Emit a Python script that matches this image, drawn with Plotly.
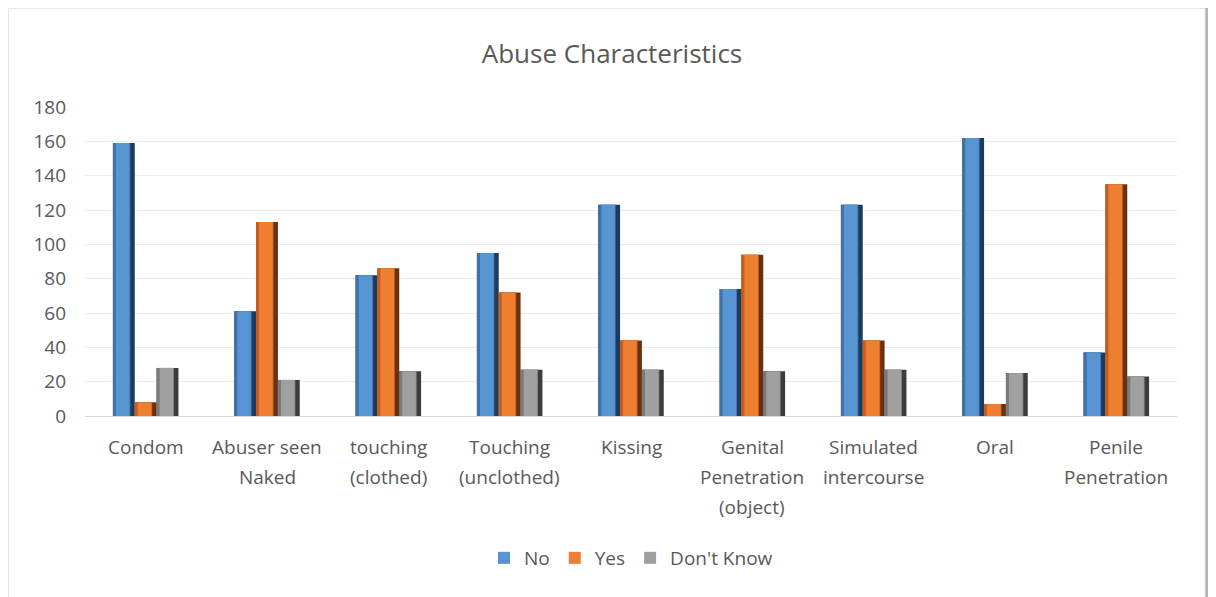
import plotly.graph_objects as go

categories = ["Condom", "Abuser seen<br>Naked", "touching<br>(clothed)", "Touching<br>(unclothed)",
              "Kissing", "Genital<br>Penetration<br>(object)", "Simulated<br>intercourse", "Oral",
              "Penile<br>Penetration"]
no_vals = [159, 61, 82, 95, 123, 74, 123, 162, 37]
yes_vals = [8, 113, 86, 72, 44, 94, 44, 7, 135]
dk_vals = [28, 21, 26, 27, 27, 26, 27, 25, 23]
y_ticks = [0, 20, 40, 60, 80, 100, 120, 140, 160, 180]

FONT = "Open Sans"
TXT = "#595959"

cat_ids = list(range(len(categories)))

# figure is placed 8px into the page by the browser's body margin
W, H = 1208, 589
L, R, T, B = 77, 39, 99, 181
PW, PH = W - L - R, H - T - B

fig = go.Figure()
series = [("No", no_vals, "#5694D2", "#3F72A8", "#1F3B5C", -0.27),
          ("Yes", yes_vals, "#EE7F30", "#C65F1E", "#6A3110", -0.09),
          ("Don't Know", dk_vals, "#A0A0A0", "#7A7A7A", "#3C3C3C", 0.09)]
BW = 0.18
for name, vals, col, left, edge, off in series:
    fig.add_trace(go.Bar(x=cat_ids, y=vals, name=name, showlegend=False, width=BW, offset=off,
                         marker=dict(color=edge, line=dict(width=0)), hoverinfo="skip"))
    fig.add_trace(go.Bar(x=cat_ids, y=vals, name=name, showlegend=False, width=BW * 0.8, offset=off,
                         marker=dict(color=left, line=dict(width=0)), hoverinfo="skip"))
    fig.add_trace(go.Bar(x=cat_ids, y=vals, name=name, width=BW * 0.62, offset=off + BW * 0.14,
                         marker=dict(color=col, line=dict(width=0))))

annotations = []
for i, lab in enumerate(categories):
    for j, line in enumerate(lab.split("<br>")):
        annotations.append(dict(x=i, y=0, xref="x", yref="paper", text=line, showarrow=False,
                                yanchor="middle", xanchor="center", yshift=-31 - 30 * j,
                                font=dict(family=FONT, size=19, color=TXT)))

fig.update_layout(
    width=W, height=H,
    paper_bgcolor="white", plot_bgcolor="white",
    margin=dict(l=L, r=R, t=T, b=B),
    barmode="overlay",
    title=dict(text="Abuse Characteristics", x=0.5, xanchor="center", y=1 - 46 / H, yanchor="middle",
               font=dict(family=FONT, size=26, color=TXT)),
    font=dict(family=FONT, color=TXT),
    xaxis=dict(tickmode="array", tickvals=cat_ids, showticklabels=False, showgrid=False,
               range=[-0.5, len(categories) - 0.5], showline=True, linecolor="#D9D9D9", linewidth=1,
               zeroline=False, fixedrange=True),
    yaxis=dict(range=[0, 180], tickvals=y_ticks, showgrid=True, gridcolor="#EBEBEB", gridwidth=1,
               zeroline=False, showline=False, ticks="", tickfont=dict(family=FONT, size=19, color=TXT),
               ticklabelstandoff=18),
    legend=dict(orientation="h", x=0.5, xanchor="center", y=-(550 - (T + PH)) / PH, yanchor="middle",
                font=dict(family=FONT, size=19, color=TXT), itemwidth=30, traceorder="normal"),
    annotations=annotations,
    shapes=[
        dict(type="rect", xref="paper", yref="paper", x0=(3 - L) / PW, x1=(1203 - L) / PW,
             y0=-(700 - T - PH) / PH, y1=(T + PH + 3) / PH, fillcolor="#B4B4B4", line=dict(width=0), layer="below"),
        dict(type="rect", xref="paper", yref="paper", x0=(0.5 - L) / PW, x1=(1197 - L) / PW,
             y0=-(700 - T - PH) / PH, y1=(T + PH - 0.5) / PH, fillcolor="white", line=dict(color="#E6E6E6", width=1),
             layer="below"),
    ],
)

fig.write_html("out.html")
